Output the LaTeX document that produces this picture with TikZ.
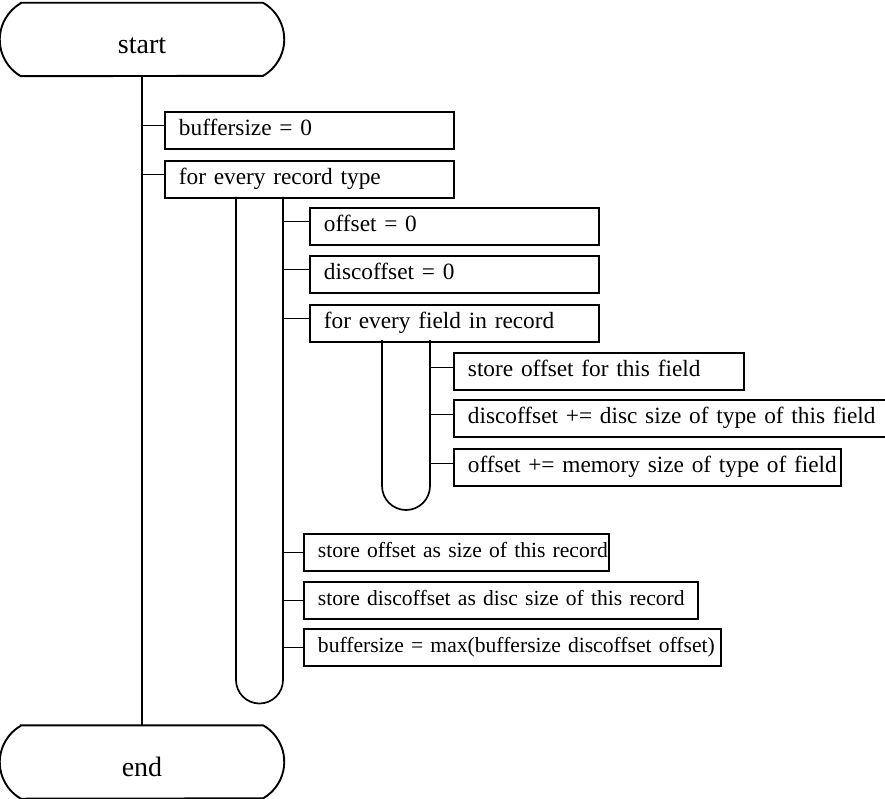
\documentclass[tikz,border=0pt]{standalone}
\usepackage{fontspec}
\setmainfont{Liberation Serif}
\begin{document}
\begin{tikzpicture}[x=1pt,y=1pt,
  flow/.style={line width=1.7pt},
  terminal/.style={minimum width=284pt, minimum height=73pt, inner sep=0pt,
    text height=28pt, text depth=0pt, font=\fontsize{28}{32}\selectfont},
  termline/.style={line width=1.9pt},
  opbox/.style={draw, line width=1.9pt, anchor=north west, inner xsep=0pt,
    inner ysep=0pt, minimum height=37pt, align=left, text height=16.3pt,
    text depth=5.8pt, font=\fontsize{23.3}{27}\selectfont,
    execute at begin node={\hspace*{14pt}\hbox\bgroup},
    execute at end node={\egroup}},
  smallbox/.style={opbox, text height=15.1pt, text depth=5.4pt,
    font=\fontsize{21.6}{25}\selectfont}]
\useasboundingbox (0,0) rectangle (885,-799);

% terminals
\node[terminal] (start) at (142,-39.5) {start};
\node[terminal] (end) at (142,-762) {end};
\foreach \t in {start,end}{
  \draw[termline] ([xshift=21pt]\t.north west) -- ([xshift=-21pt]\t.north east)
    arc[start angle=59.9, end angle=-59.9, radius=42.2]
    -- ([xshift=21pt]\t.south west)
    arc[start angle=239.9, end angle=120.1, radius=42.2] -- cycle;
}

% steps
\node[opbox, text width=289pt] (b1) at (164,-111) {buffersize = 0};
\node[opbox, text width=289pt] (b2) at (164,-160) {for every record type};
\node[opbox, text width=289pt] (b3) at (309,-207) {offset = 0};
\node[opbox, text width=289pt] (b4) at (309,-255) {discoffset = 0};
\node[opbox, text width=289pt] (b5) at (309,-304) {for every field in record};
\node[opbox, text width=290pt] (b6) at (453,-352) {store offset for this field};
\node[opbox, text width=440pt] (b7) at (453,-399) {discoffset += disc size of type of this field};
\node[opbox, text width=387pt] (b8) at (453,-448) {offset += memory size of type of field};
\node[smallbox, text width=305pt] (b9) at (303,-533) {store offset as size of this record};
\node[smallbox, text width=394pt] (b10) at (303,-581) {store discoffset as disc size of this record};
\node[smallbox, text width=417pt] (b11) at (303,-628) {buffersize = max(buffersize discoffset offset)};

% main line
\draw[flow] (start.south) -- (end.north);

% loop over record types
\coordinate (outerL) at (236,-197);
\coordinate (outerR) at (283,-197);
\draw[flow] (outerL) -- (236,-680) arc[start angle=180, end angle=360, radius=23.5] -- (outerR);

% loop over fields
\coordinate (innerL) at (382,-340);
\coordinate (innerR) at (430,-340);
\draw[flow] (innerL) -- (382,-486) arc[start angle=180, end angle=360, radius=24] -- (innerR);

% branches
\foreach \n in {b1,b2}{
  \coordinate (tmp) at ([yshift=5pt]\n.west);
  \draw[flow] (tmp) -- (tmp -| start.south);
}
\foreach \n in {b3,b4,b5}{
  \coordinate (tmp) at ([yshift=5pt]\n.west);
  \draw[flow] (tmp) -- (tmp -| outerR);
}
\foreach \n in {b6,b7,b8}{
  \coordinate (tmp) at ([yshift=4pt]\n.west);
  \draw[flow] (tmp) -- (tmp -| innerR);
}
\foreach \n in {b9,b10,b11}{
  \draw[flow] (\n.west) -- (\n.west -| outerR);
}
\end{tikzpicture}
\end{document}
